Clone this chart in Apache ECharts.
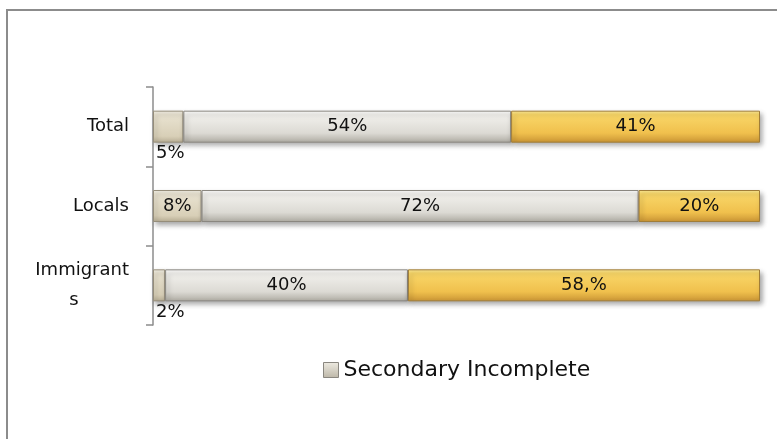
<!DOCTYPE html>
<html>
<head>
<meta charset="utf-8">
<style>
  html, body { margin: 0; padding: 0; background: #fff; }
  #chart { width: 777px; height: 439px; }
</style>
<script src="https://cdn.jsdelivr.net/npm/echarts@6/dist/echarts.min.js"></script>
</head>
<body>
<div id="chart"></div>
<script>
// Education level shares by group (percent)
const categories = ['Total', 'Locals', 'Immigrants'];
const seriesNames = ['Primary', 'Secondary Incomplete', 'Secondary Complete'];
const primary = [5, 8, 2];
const secondaryIncomplete = [54, 72, 40];
const secondaryComplete = [41, 20, 58];
const labelTexts = [
  ['5%', '8%', '2%'],
  ['54%', '72%', '40%'],
  ['41%', '20%', '58,%']
];

const FONT = '"DejaVu Sans", "Open Sans", sans-serif';

function vgrad(stops) {
  return new echarts.graphic.LinearGradient(0, 0, 0, 1,
    stops.map(s => ({ offset: s[0], color: s[1] })));
}

const fills = [
  vgrad([[0, '#f5f2e8'], [0.12, '#e9e3d1'], [0.8, '#d8cfb7'], [1, '#b8ae95']]),
  vgrad([[0, '#ffffff'], [0.12, '#f2f1ed'], [0.7, '#dcdad4'], [1, '#aeaba2']]),
  vgrad([[0, '#feec98'], [0.12, '#f9d768'], [0.7, '#f0c04d'], [1, '#c99434']])
];
const borders = ['#958d7a', '#8a8780', '#a07d38'];

const values = [primary, secondaryIncomplete, secondaryComplete];

const series = values.map((vals, si) => ({
  name: seriesNames[si],
  type: 'bar',
  stack: 'edu',
  barWidth: 32,
  itemStyle: {
    color: fills[si],
    borderColor: borders[si],
    borderWidth: 1,
    shadowColor: 'rgba(0,0,0,0.35)',
    shadowBlur: 5,
    shadowOffsetX: 2,
    shadowOffsetY: 3
  },
  label: {
    show: true,
    position: 'inside',
    color: '#111',
    fontSize: 18,
    fontFamily: FONT,
    formatter: p => labelTexts[si][p.dataIndex]
  },
  data: vals.map(v => {
    // narrow segments carry their label just under the bar
    if (v < 6) {
      return {
        value: v,
        label: { position: [3, 34], align: 'left', verticalAlign: 'top' }
      };
    }
    return v;
  })
}));

const chart = echarts.init(document.getElementById('chart'));
chart.setOption({
  animation: false,
  backgroundColor: '#fff',
  graphic: [{
    type: 'rect',
    shape: { x: 7, y: 10, width: 800, height: 460 },
    style: { fill: 'none', stroke: '#8c8c8c', lineWidth: 2 },
    silent: true
  }],
  legend: {
    data: [{
      name: 'Secondary Incomplete',
      itemStyle: {
        color: vgrad([[0, '#eeebe2'], [1, '#bdb7a8']]),
        borderColor: '#8a8780',
        borderWidth: 1
      }
    }],
    left: 318,
    top: 354,
    itemWidth: 15,
    itemHeight: 15,
    itemGap: 6,
    icon: 'rect',
    textStyle: { fontSize: 22, color: '#111', fontFamily: FONT }
  },
  grid: { left: 153, right: 17, top: 87, bottom: 114 },
  xAxis: {
    type: 'value',
    min: 0,
    max: 100,
    show: false
  },
  yAxis: {
    type: 'category',
    inverse: true,
    data: categories,
    axisLine: { show: true, lineStyle: { color: '#8c8c8c', width: 1.5 } },
    axisTick: { show: true, length: 7, lineStyle: { color: '#8c8c8c', width: 1.5 } },
    axisLabel: {
      margin: 24,
      fontSize: 18,
      color: '#111',
      fontFamily: FONT,
      lineHeight: 30,
      formatter: v => v === 'Immigrants' ? 'Immigrant\n{s|s}' : v,
      rich: {
        s: { fontSize: 18, fontFamily: FONT, color: '#111', width: 110, align: 'center', lineHeight: 30 }
      }
    }
  },
  series: series
});
</script>
</body>
</html>
